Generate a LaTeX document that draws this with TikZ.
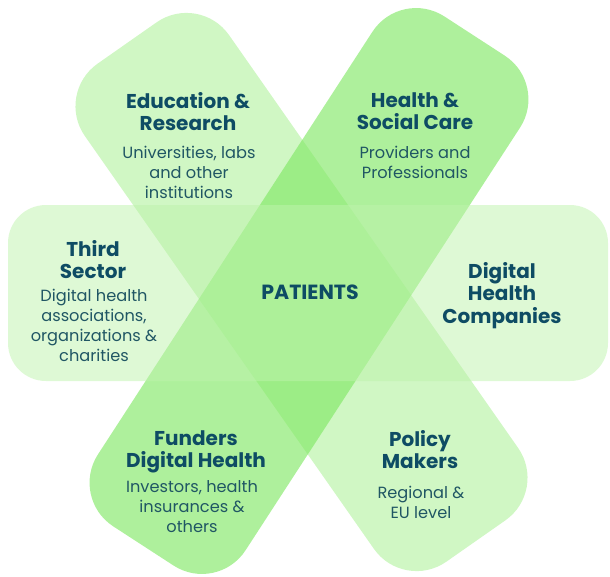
\documentclass[tikz,border=0pt]{standalone}
\usepackage{fontspec}
\setmainfont{Poppins}
\usetikzlibrary{positioning}
\definecolor{eduband}{RGB}{208,247,196}
\definecolor{careband}{RGB}{127,232,98}
\definecolor{sideband}{RGB}{190,243,172}
\definecolor{headink}{RGB}{14,76,100}
\definecolor{noteink}{RGB}{32,86,100}
\begin{document}
\begin{tikzpicture}[x=1pt,y=-1pt,
  band/.style={rounded corners=52pt},
  grouptitle/.style={anchor=north,align=center,inner sep=0pt,text=headink,
    font=\bfseries\fontsize{20}{22.5}\selectfont},
  groupnote/.style={anchor=north,align=center,inner sep=0pt,text=noteink,
    font=\fontsize{16.2}{20}\selectfont}]
\useasboundingbox (0,0) rectangle (610,576);
% crossing bands
\begin{scope}[shift={(301.5,292)},rotate=-55]
\fill[band,eduband] (-304,-88) rectangle (304,88);
\end{scope}
\begin{scope}[shift={(309,291)},rotate=57]
\fill[band,careband,fill opacity=0.63] (-304,-88) rectangle (304,88);
\end{scope}
\fill[band,rounded corners=38pt,sideband,fill opacity=0.5] (8,205) rectangle (608,381);
% labels
\path node[grouptitle] (edu) at (188,92) {Education \&\\Research}
node[groupnote] (edunote) at (189,146) {Universities, labs\\and other\\institutions}
node[grouptitle] (care) at (415,92) {Health \&\\Social Care}
node[groupnote] (carenote) at (415,146) {Providers and\\Professionals}
node[grouptitle] (third) at (93,240) {Third\\Sector}
node[groupnote] (thirdnote) at (94,289) {Digital health\\associations,\\organizations \&\\charities}
node[grouptitle,font=\bfseries\fontsize{20.5}{22}\selectfont] (pat) at (310,285) {PATIENTS}
node[grouptitle] (comp) at (502,262) {Digital\\Health\\Companies}
node[grouptitle] (fund) at (196,430) {Funders\\Digital Health}
node[groupnote] (fundnote) at (192,480) {Investors, health\\insurances \&\\others}
node[grouptitle] (pol) at (420,430) {Policy\\Makers}
node[groupnote] (polnote) at (421,486) {Regional \&\\EU level}
;
\end{tikzpicture}
\end{document}
